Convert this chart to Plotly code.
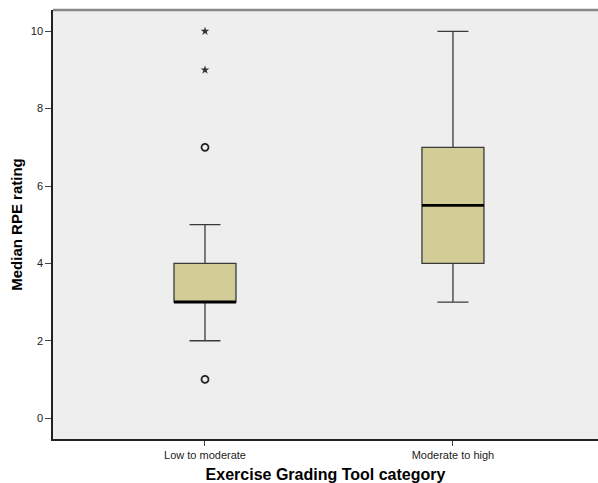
import plotly.graph_objects as go

categories = ["Low to moderate", "Moderate to high"]
cat_pos = [1, 2]
q1 = [3, 4]
median = [3, 5.5]
q3 = [4, 7]
lower_whisker = [2, 3]
upper_whisker = [5, 10]
# outliers (category index, value)
mild_outliers_x = [1, 1]
mild_outliers_y = [1, 7]
extreme_outliers_x = [1, 1]
extreme_outliers_y = [9, 10]
y_ticks = [0, 2, 4, 6, 8, 10]

BOX_W = 0.25
FILL = "#D2CD96"
LINE = "#3a3a3a"

fig = go.Figure()
for i in range(len(categories)):
    fig.add_trace(go.Box(
        x=[cat_pos[i]], q1=[q1[i]], median=[median[i]], q3=[q3[i]],
        lowerfence=[lower_whisker[i]], upperfence=[upper_whisker[i]],
        width=BOX_W, whiskerwidth=0.5, fillcolor=FILL,
        line=dict(color=LINE, width=1.3), boxpoints=False,
        showlegend=False, hoverinfo="skip",
    ))
    fig.add_trace(go.Scatter(
        x=[cat_pos[i] - BOX_W / 2, cat_pos[i] + BOX_W / 2],
        y=[median[i], median[i]], mode="lines",
        line=dict(color="black", width=2.8), showlegend=False, hoverinfo="skip",
    ))

fig.add_trace(go.Scatter(
    x=mild_outliers_x, y=mild_outliers_y, mode="markers",
    marker=dict(symbol="circle-open", size=7, color="#222", line=dict(width=1.8)),
    showlegend=False,
))
fig.add_trace(go.Scatter(
    x=extreme_outliers_x, y=extreme_outliers_y, mode="markers",
    marker=dict(symbol="star", size=6.5, color="#333", line=dict(width=0)),
    showlegend=False,
))

fig.update_layout(
    width=598, height=483,
    margin=dict(l=53, r=0, t=10, b=44),
    paper_bgcolor="white", plot_bgcolor="#EEEEEE",
    font=dict(family="Liberation Sans, Arial, sans-serif", color="#222"),
    xaxis=dict(
        range=[0.387, 2.585], tickmode="array", tickvals=cat_pos, ticktext=categories,
        showgrid=False, zeroline=False, showline=True, linecolor="#222", linewidth=1.5,
        ticks="outside", ticklen=5, tickcolor="#444", tickwidth=1,
        tickfont=dict(size=11, color="#222"),
        title=dict(text="<b>Exercise Grading Tool category</b>", font=dict(size=16, color="black"), standoff=11),
    ),
    yaxis=dict(
        range=[-0.54, 10.55], tickmode="array", tickvals=y_ticks,
        showgrid=False, zeroline=False, showline=True, linecolor="#222", linewidth=1.5,
        ticks="outside", ticklen=6, tickcolor="#444", tickwidth=1,
        tickfont=dict(size=11, color="#222"),
        title=dict(text="<b>Median RPE rating</b>", font=dict(size=15, color="black"), standoff=5),
    ),
    shapes=[dict(type="line", xref="paper", yref="paper", x0=0, x1=1, y0=1, y1=1,
                 line=dict(color="#888", width=2.5))],
)

fig.write_html("out.html")
